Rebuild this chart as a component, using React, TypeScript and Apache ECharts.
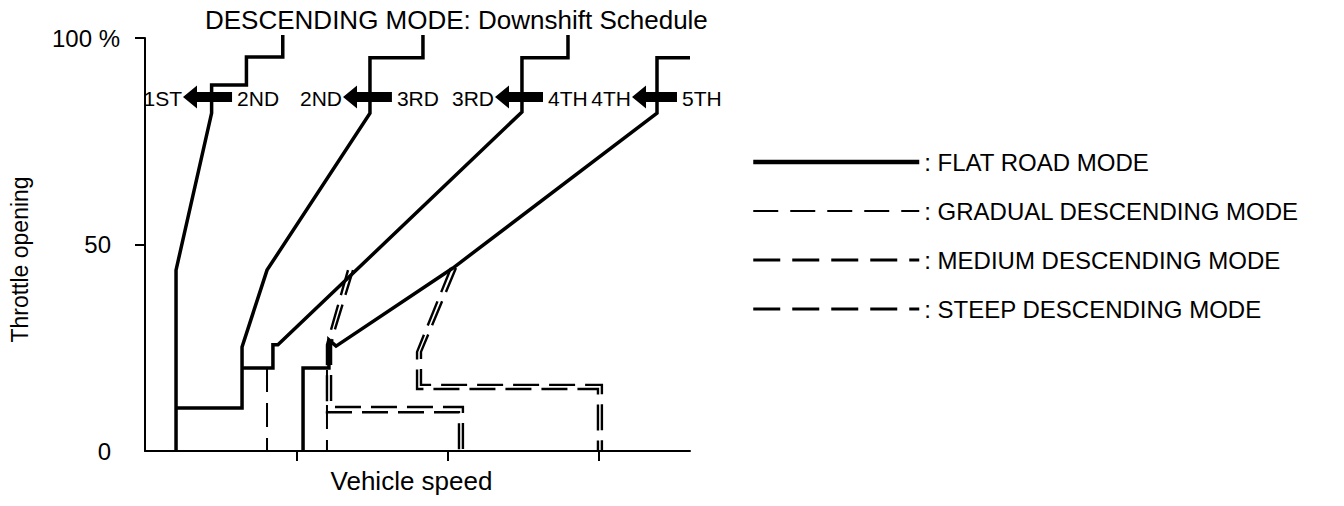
import React, { useEffect, useRef } from "react";
import * as echarts from "echarts";

// ---- data (x: vehicle speed in arbitrary units, y: throttle opening %) ----
const titleText = "DESCENDING MODE: Downshift Schedule";
const modeNames = [
  "FLAT ROAD MODE",
  "GRADUAL DESCENDING MODE",
  "MEDIUM DESCENDING MODE",
  "STEEP DESCENDING MODE",
];
const yTickValues = [0, 50, 100];

// flat road mode shift lines
const flat1 = [[9.1, 100.7], [9.1, 95.4], [6.7, 95.4], [6.7, 88.6], [4.4, 88.6], [4.4, 81.8], [2.05, 43.8], [2.05, 0]];
const flat2 = [[18.36, 100.7], [18.36, 95.2], [14.86, 95.2], [14.86, 81.8], [8.06, 43.8], [6.41, 25.2], [6.41, 10.4], [2.05, 10.4]];
const flat3 = [[27.94, 100.7], [27.94, 95.2], [24.9, 95.2], [24.9, 82.1], [8.78, 25.7], [8.45, 25.7], [8.45, 20.1], [6.41, 20.1]];
const flat4 = [[36, 95.2], [33.82, 95.2], [33.82, 81.8], [20.34, 44.3], [12.62, 25.4], [12.15, 26.9], [12.15, 20.1], [10.44, 20.1], [10.44, 0]];

// gradual descending mode
const grad1 = [[8.06, 20.1], [8.06, 0]];
const grad2 = [[12.02, 19.6], [12.02, 0]];

// medium descending mode
const med1 = [[13.41, 43.8], [12.3, 29.5], [12.02, 25.7], [12.02, 9.4], [20.74, 9.4], [20.74, 0]];
const med2 = [[20.21, 44.3], [17.97, 24.0], [17.97, 15.0], [29.92, 15.0], [29.92, 0]];

// steep descending mode
const steep1 = [[13.74, 43.8], [12.55, 29.5], [12.29, 25.7], [12.29, 10.65], [21.0, 10.65], [21.0, 0]];
const steep2 = [[20.54, 44.3], [18.23, 24.0], [18.23, 16.0], [30.18, 16.0], [30.18, 0]];

// downshift arrows
const arrowLow = ["1ST", "2ND", "3RD", "4TH"];
const arrowHigh = ["2ND", "3RD", "4TH", "5TH"];
const arrowTip = [2.51, 13.08, 23.12, 32.17];
const arrowTail = [5.75, 16.31, 26.29, 35.14];
const arrowY = [85.7, 85.7, 85.7, 85.7];

const FONT = "'Liberation Sans', Arial, sans-serif";

export default function App() {
  const ref = useRef<HTMLDivElement>(null);

  useEffect(() => {
    document.body.style.margin = "0";
    const chart = echarts.init(ref.current!, undefined, { renderer: "svg" });

    const lineSeries = (name: string, data: number[][], width: number, dash?: number[]) => ({
      type: "line",
      name,
      data,
      symbol: "none",
      showSymbol: false,
      clip: false,
      silent: true,
      animation: false,
      color: "#000",
      itemStyle: { color: "#000" },
      emphasis: { disabled: true },
      lineStyle: {
        color: "#000",
        width,
        type: dash ? dash : "solid",
        cap: "butt",
        join: "miter",
      },
    });

    const hiddenSymbol = { color: "transparent", borderColor: "transparent", borderWidth: 0, opacity: 0 };

    const flatW = 3.5;
    const dashW = 2.4;
    const option: any = {
      animation: false,
      backgroundColor: "#fff",
      title: {
        text: titleText,
        left: 200,
        top: 2,
        textStyle: { fontFamily: FONT, fontSize: 26, fontWeight: "normal", color: "#000" },
      },
      legend: {
        orient: "vertical",
        left: 746,
        top: 145,
        itemWidth: 166,
        itemHeight: 20,
        itemGap: 25,
        selectedMode: false,
        itemStyle: hiddenSymbol,
        data: [
          { name: modeNames[0], itemStyle: hiddenSymbol, lineStyle: { color: "#000", width: 4.5, type: "solid" } },
          { name: modeNames[1], itemStyle: hiddenSymbol, lineStyle: { color: "#000", width: 2, type: [25, 12] } },
          { name: modeNames[2], itemStyle: hiddenSymbol, lineStyle: { color: "#000", width: 3, type: [27, 12] } },
          { name: modeNames[3], itemStyle: hiddenSymbol, lineStyle: { color: "#000", width: 3, type: [27, 12] } },
        ],
        formatter: ": {name}",
        textStyle: { fontFamily: FONT, fontSize: 24, color: "#000" },
      },
      grid: { left: 145, right: 654, top: 38, bottom: 55 },
      xAxis: {
        type: "value",
        min: 0,
        max: 36,
        interval: 10,
        name: "Vehicle speed",
        nameLocation: "middle",
        nameGap: 17,
        nameTextStyle: { fontFamily: FONT, fontSize: 26, color: "#000", verticalAlign: "top", padding: [0, 12, 0, 0] },
        splitLine: { show: false },
        axisLine: { show: true, onZero: false, lineStyle: { color: "#000", width: 2 } },
        axisTick: { show: true, length: 10, customValues: [10, 20, 30], lineStyle: { color: "#000", width: 2 } },
        axisLabel: { show: false },
      },
      yAxis: {
        type: "value",
        min: 0,
        max: 100,
        interval: 50,
        name: "Throttle opening",
        nameLocation: "middle",
        nameRotate: 90,
        nameGap: 114,
        nameTextStyle: { fontFamily: FONT, fontSize: 23, color: "#000", padding: [0, 30, 0, 0] },
        splitLine: { show: false },
        axisLine: { show: true, lineStyle: { color: "#000", width: 2 } },
        axisTick: { show: true, length: 10, customValues: [50, 100], lineStyle: { color: "#000", width: 2 } },
        axisLabel: {
          margin: 25,
          customValues: yTickValues,
          formatter: (v: number) => (v === 100 ? "{a|100 %}" : "{b|" + v + "}"),
          rich: {
            a: { fontFamily: FONT, fontSize: 24, color: "#000" },
            b: { fontFamily: FONT, fontSize: 24, color: "#000", padding: [0, 9, 0, 0] },
          },
        },
      },
      series: [
        lineSeries(modeNames[0], flat1, flatW),
        lineSeries(modeNames[0], flat2, flatW),
        lineSeries(modeNames[0], flat3, flatW),
        lineSeries(modeNames[0], flat4, flatW),
        lineSeries(modeNames[1], grad1, 2, [24, 11]),
        lineSeries(modeNames[1], grad2, 2, [24, 11]),
        lineSeries(modeNames[2], med1, dashW, [26, 10]),
        lineSeries(modeNames[2], med2, dashW, [26, 10]),
        lineSeries(modeNames[3], steep1, dashW, [26, 10]),
        lineSeries(modeNames[3], steep2, dashW, [26, 10]),
        {
          type: "custom",
          name: "arrows",
          coordinateSystem: "cartesian2d",
          clip: false,
          silent: true,
          encode: { x: [0, 1], y: 2 },
          data: arrowTip.map((t, i) => [t, arrowTail[i], arrowY[i], i]),
          renderItem: (params: any, api: any) => {
            const i = api.value(3);
            const tip = api.coord([api.value(0), api.value(2)]);
            const tail = api.coord([api.value(1), api.value(2)]);
            const y = tip[1];
            const hl = 14, hh = 11.5, bh = 5;
            return {
              type: "group",
              children: [
                {
                  type: "polygon",
                  shape: {
                    points: [
                      [tip[0], y],
                      [tip[0] + hl, y - hh],
                      [tip[0] + hl, y - bh],
                      [tail[0], y - bh],
                      [tail[0], y + bh],
                      [tip[0] + hl, y + bh],
                      [tip[0] + hl, y + hh],
                    ],
                  },
                  style: { fill: "#000" },
                },
                {
                  type: "text",
                  style: {
                    text: arrowLow[i],
                    x: tip[0] - 1,
                    y: y + 1,
                    align: "right",
                    verticalAlign: "middle",
                    fontFamily: FONT,
                    fontSize: 21,
                    fill: "#000",
                  },
                },
                {
                  type: "text",
                  style: {
                    text: arrowHigh[i],
                    x: tail[0] + 5,
                    y: y + 1,
                    align: "left",
                    verticalAlign: "middle",
                    fontFamily: FONT,
                    fontSize: 21,
                    fill: "#000",
                  },
                },
              ],
            };
          },
        },
      ],
    };

    chart.setOption(option);
    return () => chart.dispose();
  }, []);

  return <div ref={ref} style={{ width: 1344, height: 506 }} />;
}
